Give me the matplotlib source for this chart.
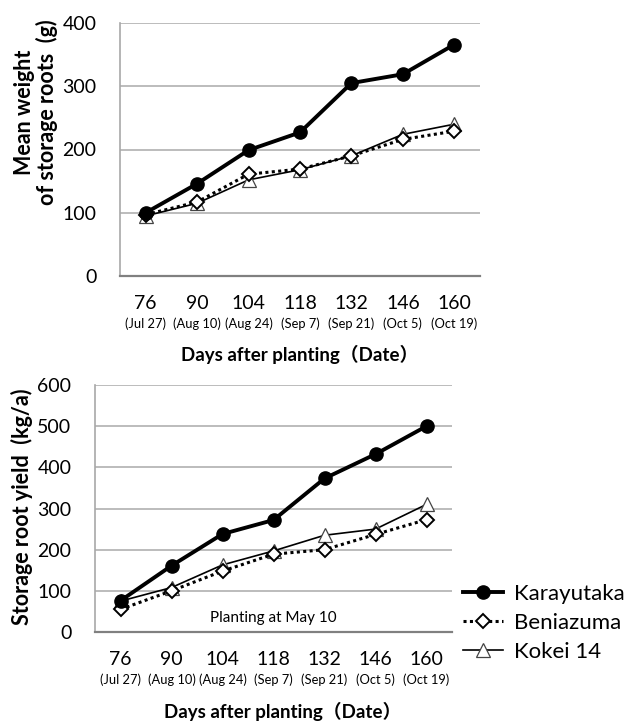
import numpy as np
import matplotlib
matplotlib.use('Agg')
import matplotlib.pyplot as plt
import matplotlib.transforms as mtransforms

plt.rcParams['font.family'] = ['Lato', 'Noto Sans CJK JP', 'DejaVu Sans']

# Data
days = ['76', '90', '104', '118', '132', '146', '160']
dates = ['(Jul 27)', '(Aug 10)', '(Aug 24)', '(Sep 7)', '(Sep 21)', '(Oct 5)', '(Oct 19)']

weight_karayutaka = [100, 146, 199, 227, 305, 319, 366]
weight_beniazuma = [97, 117, 161, 169, 190, 216, 229]
weight_kokei = [95, 115, 152, 168, 190, 224, 240]

yield_karayutaka = [76, 161, 238, 272, 373, 432, 500]
yield_beniazuma = [55, 100, 148, 189, 200, 237, 273]
yield_kokei = [75, 108, 163, 197, 235, 250, 310]

W, H = 633, 722
fig = plt.figure(figsize=(W / 100, H / 100), dpi=100)


def make_axes(left, top, right, bottom):
    return fig.add_axes([left / W, 1 - bottom / H, (right - left) / W, (bottom - top) / H])


def style_axes(ax, ymax):
    x = np.arange(len(days))
    ax.set_xlim(-0.5, len(days) - 0.5)
    ax.set_ylim(0, ymax)
    ax.set_yticks(np.arange(0, ymax + 1, 100))
    ax.set_xticks(x)
    ax.set_xticklabels(days)
    ax.tick_params(length=0, labelsize=14)
    ax.tick_params(axis='x', pad=14)
    ax.tick_params(axis='y', pad=17)
    ax.grid(axis='y', color='#b0b0b0', lw=1.2)
    ax.set_axisbelow(True)
    for s in ['top', 'right']:
        ax.spines[s].set_visible(False)
    ax.spines['left'].set_color('#a8a8a8')
    ax.spines['left'].set_linewidth(1.2)
    ax.spines['bottom'].set_color('#808080')
    ax.spines['bottom'].set_linewidth(1.6)
    # small date line under each day number
    trans = mtransforms.blended_transform_factory(ax.transData, fig.transFigure)
    bottom_px = (1 - ax.get_position().y0) * H
    for i, d in enumerate(dates):
        ax.text(i, 1 - (bottom_px + 48) / H, d, transform=trans, ha='center', va='center', fontsize=9.3)


def draw_series(ax, k, b, c):
    x = np.arange(len(days))
    l1, = ax.plot(x, k, color='black', lw=2.8, marker='o', ms=9.5, label='Karayutaka', zorder=5)
    l2, = ax.plot(x, b, color='black', lw=2.2, ls=(0, (1, 1.1)), marker='D', ms=7.5,
                  mfc='white', mec='black', mew=1.4, label='Beniazuma', zorder=4)
    l3, = ax.plot(x, c, color='black', lw=1.2, marker='^', ms=10,
                  mfc='white', mec='#444444', mew=0.9, label='Kokei 14', zorder=3)
    return l1, l2, l3


ax1 = make_axes(120, 23, 480, 276)
draw_series(ax1, weight_karayutaka, weight_beniazuma, weight_kokei)
style_axes(ax1, 400)
fig.text(300 / W, 1 - 354 / H, 'Days after planting（Date）', ha='center', va='center',
         fontsize=13.5, fontweight='bold')
fig.text(36 / W, 1 - 112 / H, 'Mean weight\nof storage roots  (g)', ha='center', va='center',
         rotation=90, fontsize=15.5, fontweight='bold', linespacing=1.05)

ax2 = make_axes(95, 385, 452, 632)
handles = draw_series(ax2, yield_karayutaka, yield_beniazuma, yield_kokei)
style_axes(ax2, 600)
ax2.text(0.5, 0.058, 'Planting at May 10', transform=ax2.transAxes, ha='center', va='center', fontsize=11)
fig.text(283 / W, 1 - 711 / H, 'Days after planting（Date）', ha='center', va='center',
         fontsize=13.5, fontweight='bold')
fig.text(22 / W, 1 - 507 / H, 'Storage root yield  (kg/a)', ha='center', va='center',
         rotation=90, fontsize=15.5, fontweight='bold')

fig.legend(handles=handles, loc='upper left', bbox_to_anchor=(463 / W, 1 - 584 / H),
           frameon=False, fontsize=16, handlelength=1.8, handletextpad=0.5,
           labelspacing=0.4, borderaxespad=0, borderpad=0)

fig.savefig('out.png', dpi=100)
